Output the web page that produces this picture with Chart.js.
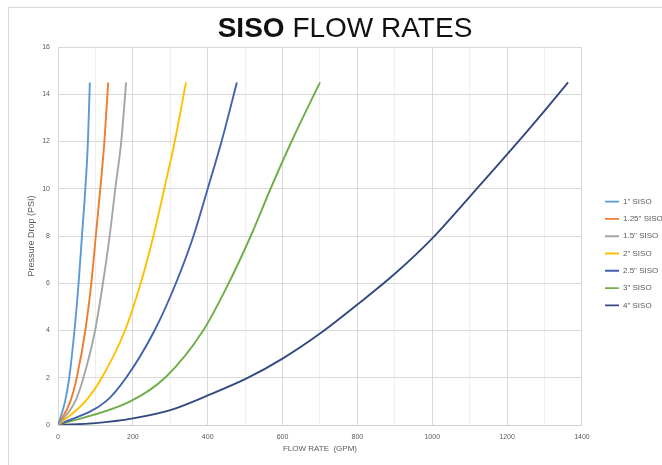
<!DOCTYPE html>
<html>
<head>
<meta charset="utf-8">
<script src="https://cdn.jsdelivr.net/npm/chart.js@4.4.1/dist/chart.umd.min.js"></script>
<style>
  html, body { margin: 0; padding: 0; background: #fff; overflow: hidden; }
  #wrap { position: absolute; left: 0; top: 0; width: 662px; height: 465px; }
</style>
</head>
<body>
<div id="wrap"><canvas id="sisoChart" width="662" height="465"></canvas></div>
<script>
// series labels
const seriesNames = ['1" SISO', '1.25" SISO', '1.5" SISO', '2" SISO', '2.5" SISO', '3" SISO', '4" SISO'];
const seriesColors = ["#5B9BD5", "#ED7D31", "#A5A5A5", "#FFC000", "#4261B0", "#70AD47", "#34497F"];

// flow rate (GPM) / pressure drop (PSI) pairs
const flow1 = [0, 19, 30, 44, 55, 64, 73, 80, 85];
const psi1 = [0, 1, 2, 4, 6, 8, 10, 12, 14.5];
const flow125 = [0, 33, 50, 73, 89, 101, 113, 124, 134];
const psi125 = [0, 1, 2, 4, 6, 8, 10, 12, 14.5];
const flow15 = [0, 46, 68, 99, 120, 138, 153, 169, 182];
const psi15 = [0, 1, 2, 4, 6, 8, 10, 12, 14.5];
const flow2 = [0, 73, 117, 179, 221, 255, 284, 312, 342];
const psi2 = [0, 1, 2, 4, 6, 8, 10, 12, 14.5];
const flow25 = [0, 128, 182, 258, 315, 362, 400, 437, 478];
const psi25 = [0, 1, 2, 4, 6, 8, 10, 12, 14.5];
const flow3 = [0, 193, 286, 388, 456, 515, 568, 624, 700];
const psi3 = [0, 1, 2, 4, 6, 8, 10, 12, 14.5];
const flow4 = [0, 100, 200, 300, 400, 504, 600, 700, 800, 900, 1000, 1100, 1200, 1300, 1363];
const psi4 = [0, 0.08, 0.28, 0.63, 1.25, 1.97, 2.81, 3.87, 5.1, 6.4, 7.9, 9.66, 11.45, 13.3, 14.5];

const flows = [flow1, flow125, flow15, flow2, flow25, flow3, flow4];
const psis = [psi1, psi125, psi15, psi2, psi25, psi3, psi4];

const FONT = "'Liberation Sans', Arial, sans-serif";
const LEGEND_PAD = 9.3;

// title drawn with "SISO" heavier than the rest, plus the outer chart border
const titlePlugin = {
  id: "sisoTitle",
  afterLayout(chart) {
    // the legend sits right of where chart.js puts it and runs off the edge
    const lg = chart.legend;
    const w = lg.right - lg.left;
    lg.left = 605 - LEGEND_PAD;
    lg.right = lg.left + w;
    lg.top += 3;
    lg.bottom += 3;
  },
  afterDraw(chart) {
    const ctx = chart.ctx;
    ctx.save();
    ctx.fillStyle = "#111";
    ctx.textBaseline = "alphabetic";
    ctx.font = "bold 28px " + FONT;
    const w1 = ctx.measureText("SISO").width;
    ctx.font = "28px " + FONT;
    const w2 = ctx.measureText(" FLOW RATES").width;
    let x = 345 - (w1 + w2) / 2;
    ctx.font = "bold 28px " + FONT;
    ctx.fillText("SISO", x, 37);
    ctx.font = "28px " + FONT;
    ctx.fillText(" FLOW RATES", x + w1, 37);
    ctx.strokeStyle = "#d9d9d9";
    ctx.lineWidth = 1;
    ctx.beginPath();
    ctx.moveTo(8.5, 470);
    ctx.lineTo(8.5, 7.5);
    ctx.lineTo(670, 7.5);
    ctx.stroke();
    ctx.restore();
  },
};

const datasets = seriesNames.map((name, i) => ({
  label: name,
  data: flows[i].map((f, j) => ({ x: f, y: psis[i][j] })),
  borderColor: seriesColors[i],
  backgroundColor: seriesColors[i],
  borderWidth: 1.9,
  pointRadius: 0,
  pointStyle: "line",
  cubicInterpolationMode: "monotone",
  fill: false,
}));

new Chart(document.getElementById("sisoChart"), {
  type: "line",
  data: { datasets: datasets },
  options: {
    responsive: false,
    animation: false,
    layout: { padding: { top: 47, left: 8, right: 3, bottom: 11 } },
    plugins: {
      title: { display: false },
      tooltip: { enabled: false },
      legend: {
        position: "right",
        maxWidth: 80,
        labels: {
          usePointStyle: true,
          pointStyleWidth: 14,
          boxHeight: 8,
          padding: LEGEND_PAD,
          color: "#595959",
          font: { family: FONT, size: 8 },
        },
      },
    },
    scales: {
      x: {
        type: "linear",
        min: 0,
        max: 1400,
        ticks: {
          stepSize: 100,
          color: "#595959",
          font: { family: FONT, size: 7 },
          maxRotation: 0,
          autoSkip: false,
          padding: 8,
          callback: (v) => (v % 200 === 0 ? v : ""),
        },
        grid: {
          color: (c) => (c.tick && c.tick.value % 200 === 0 ? "#d9d9d9" : "#eeeeee"),
          drawTicks: false,
        },
        border: { color: "#d0d0d0" },
        title: {
          display: true,
          text: "FLOW RATE  (GPM)",
          color: "#595959",
          font: { family: FONT, size: 8 },
          padding: { top: 4, bottom: 0 },
        },
        afterFit: (scale) => {
          scale.height = 29;
        },
      },
      y: {
        min: 0,
        max: 16,
        ticks: {
          stepSize: 2,
          color: "#595959",
          font: { family: FONT, size: 7 },
          padding: 8,
        },
        grid: { color: "#d9d9d9", drawTicks: false },
        border: { color: "#d9d9d9" },
        title: {
          display: true,
          text: "Pressure Drop (PSI)",
          color: "#595959",
          font: { family: FONT, size: 9 },
          padding: { top: 18, bottom: 4 },
        },
        afterFit: (scale) => {
          scale.width = 50;
        },
      },
    },
  },
  plugins: [titlePlugin],
});
</script>
</body>
</html>
